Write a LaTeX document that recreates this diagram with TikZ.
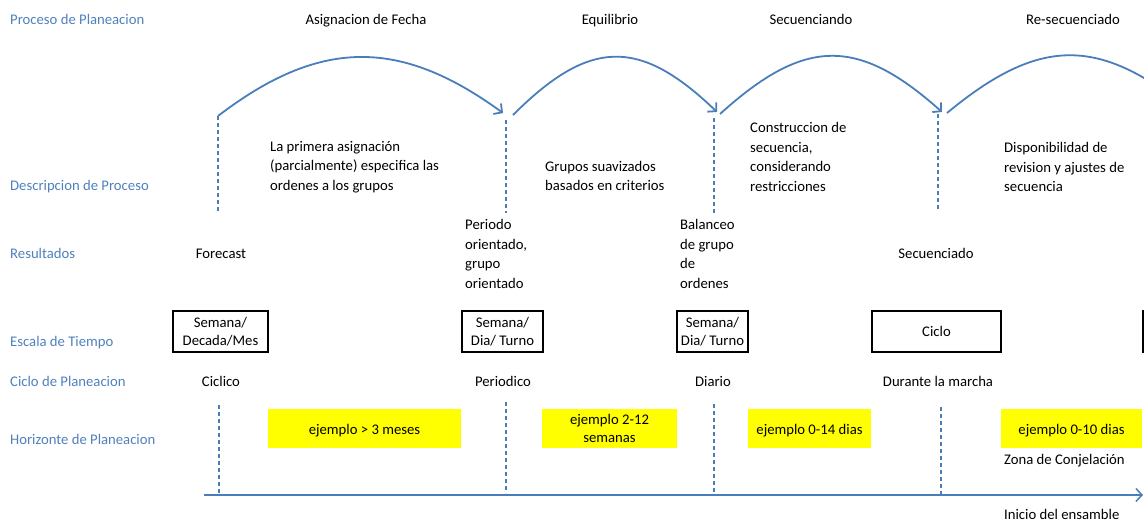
\documentclass[tikz,border=0pt]{standalone}
\usepackage{fontspec}
\setmainfont{Carlito}
\usetikzlibrary{arrows.meta}
\definecolor{rowblue}{RGB}{79,129,189}
\definecolor{lineblue}{RGB}{74,126,187}
\definecolor{hlyellow}{RGB}{255,255,0}
\newcommand{\lowered}[1]{\raisebox{-2.5pt}[\height][\depth]{#1}}
\begin{document}
\begin{tikzpicture}[x=1pt,y=-1pt,
  every node/.style={font=\fontsize{14.7}{19.5}\selectfont, inner sep=0pt},
  rowlabel/.style={anchor=mid west, text=rowblue, yshift=-2.5pt},
  plain/.style={anchor=mid, yshift=-2.5pt},
  single/.style={anchor=mid west, yshift=-2.5pt},
  para/.style={anchor=west, align=left},
  scalebox/.style={draw=black, line width=1.6pt, minimum height=41pt, align=center,
    font=\fontsize{14.7}{18}\selectfont},
  example/.style={fill=hlyellow, minimum height=39pt, align=center,
    font=\fontsize{14.7}{18}\selectfont},
  phase/.style={draw=lineblue, line width=1.8pt, -{Straight Barb[length=6pt,width=13pt]}},
  marker/.style={draw=lineblue, line width=1.6pt, dash pattern=on 4pt off 3pt},
  timeline/.style={draw=lineblue, line width=1.5pt, -{Straight Barb[length=6pt,width=13pt]}}
]
\useasboundingbox (0,0) rectangle (1144,523);
\clip (0,0) rectangle (1144,523);

% row labels
\node[rowlabel] (l1) at (10,20)  {Proceso de Planeacion};
\node[rowlabel] (l2) at (10,186) {Descripcion de Proceso};
\node[rowlabel] (l3) at (10,254) {Resultados};
\node[rowlabel] (l4) at (10,342) {Escala de Tiempo};
\node[rowlabel] (l5) at (10,382) {Ciclo de Planeacion};
\node[rowlabel] (l6) at (10,440) {Horizonte de Planeacion};

% phase titles
\node[plain] (t1) at (366,20)  {Asignacion de Fecha};
\node[plain] (t2) at (610,20)  {Equilibrio};
\node[plain] (t3) at (811,20)  {Secuenciando};
\node[plain] (t4) at (1073,20) {Re-secuenciado};

% phase boundaries (upper part)
\coordinate (a1) at (218,116); \coordinate (a1b) at (218,213);
\coordinate (a2) at (506,120); \coordinate (a2b) at (506,213);
\coordinate (a3) at (714,118); \coordinate (a3b) at (714,214);
\coordinate (a4) at (938,114); \coordinate (a4b) at (938,209);
\draw[marker] (a1) -- (a1b);
\draw[marker] (a2) -- (a2b);
\draw[marker] (a3) -- (a3b);
\draw[marker] (a4) -- (a4b);

% phase arcs
\coordinate (s1) at (218,116); \coordinate (e1) at (503,113);
\coordinate (s2) at (513,115); \coordinate (e2) at (717,112);
\coordinate (s3) at (720,114); \coordinate (e3) at (942,112);
\coordinate (s4) at (947,113); \coordinate (e4) at (1193,113);
\draw[phase] (s1) .. controls (320,38) and (400,38) .. (e1);
\draw[phase] (s2) .. controls (590,38) and (640,38) .. (e2);
\draw[phase] (s3) .. controls (805,37) and (858,37) .. (e3);
\draw[draw=lineblue, line width=1.8pt] (s4) .. controls (1040,36) and (1100,36) .. (e4);

% process descriptions
\node[para] (d1) at (270,167) {La primera asignación\\(parcialmente) especifica las\\ordenes a los grupos};
\node[para] (d2) at (545,176) {Grupos suavizados\\basados en criterios};
\node[para] (d3) at (750,157) {Construccion de\\secuencia,\\considerando\\restricciones};
\node[para] (d4) at (1004,167) {Disponibilidad de\\revision y ajustes de\\secuencia};

% results
\node[plain] (r1) at (221,254) {Forecast};
\node[para] (r2) at (465,254) {Periodo\\orientado,\\grupo\\orientado};
\node[para] (r3) at (680,254) {Balanceo\\de grupo\\de\\ordenes};
\node[plain] (r4) at (936,254) {Secuenciado};

% time scale
\node[scalebox, minimum width=95pt]  (b1) at (220.5,331.5) {Semana/\\Decada/Mes};
\node[scalebox, minimum width=81pt]  (b2) at (502.5,331.5) {Semana/\\Dia/ Turno};
\node[scalebox, minimum width=71pt]  (b3) at (712.5,331.5) {Semana/\\Dia/ Turno};
\node[scalebox, minimum width=129pt] (b4) at (936.5,331.5) {Ciclo};
\node[scalebox, minimum width=100pt] (b5) at (1193,331.5) {};

% planning cycle
\node[plain] (c1) at (221,382) {Ciclico};
\node[plain] (c2) at (503,382) {Periodico};
\node[plain] (c3) at (713,382) {Diario};
\node[plain] (c4) at (938,382) {Durante la marcha};

% planning horizon
\node[example, minimum width=193pt] (h1) at (364.5,428.5) {\lowered{ejemplo > 3 meses}};
\node[example, minimum width=135pt] (h2) at (609.5,428.5) {ejemplo 2-12\\semanas};
\node[example, minimum width=123pt] (h3) at (809.5,428.5) {\lowered{ejemplo 0-14 dias}};
\node[example, minimum width=141pt] (h4) at (1071.5,428.5) {\lowered{ejemplo 0-10 dias}};

% phase boundaries (lower part)
\coordinate (m1) at (219,405); \coordinate (m1b) at (219,495);
\coordinate (m2) at (506,402); \coordinate (m2b) at (506,493);
\coordinate (m3) at (714,404); \coordinate (m3b) at (714,494);
\coordinate (m4) at (941,407); \coordinate (m4b) at (941,494);
\draw[marker] (m1) -- (m1b);
\draw[marker] (m2) -- (m2b);
\draw[marker] (m3) -- (m3b);
\draw[marker] (m4) -- (m4b);

% time axis
\coordinate (x0) at (204,495);
\coordinate (x1) at (1143,495);
\draw[timeline] (x0) -- (x1);

\node[single] (z1) at (1004,460) {Zona de Conjelación};
\node[single] (z2) at (1004,515) {Inicio del ensamble};
\end{tikzpicture}
\end{document}
